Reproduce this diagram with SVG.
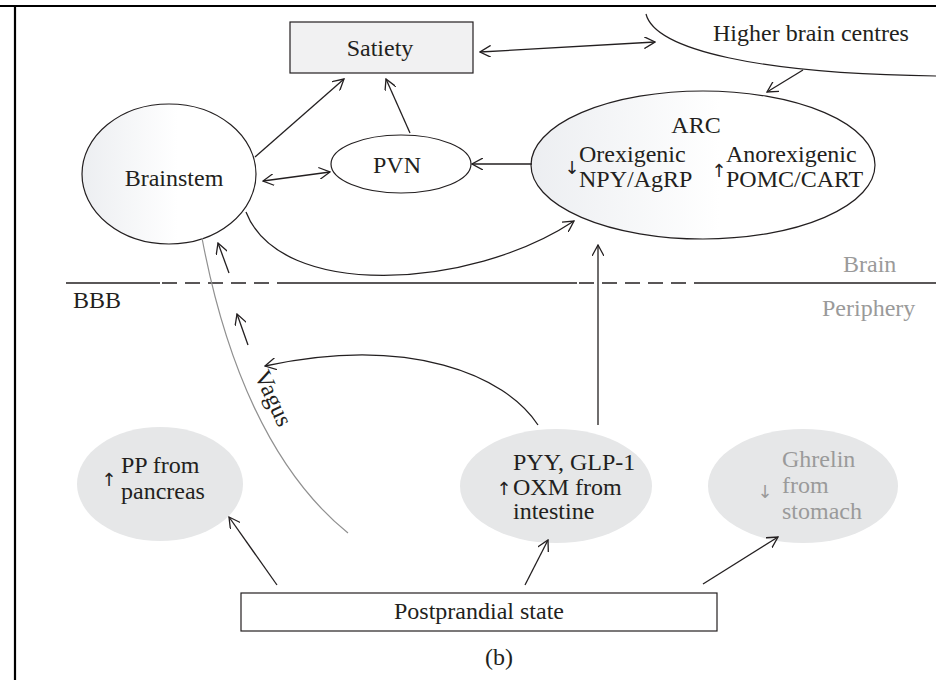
<svg xmlns="http://www.w3.org/2000/svg" width="936" height="680" viewBox="0 0 936 680">
  <style>
    .t { font-family: "Liberation Serif", "Times New Roman", serif; font-size: 24px; fill: #231f20; }
    .sym { font-family: "DejaVu Sans", sans-serif; font-size: 18px; fill: #231f20; text-anchor: middle; }
    .g { fill: #9a9a9a; }
    .c { text-anchor: middle; }
    .edge { fill: none; stroke: #231f20; stroke-width: 1.3; }
    .node { stroke: #231f20; stroke-width: 1.2; }
  </style>
  <defs>
    <linearGradient id="soft" x1="0" y1="0" x2="1" y2="0">
      <stop offset="0" stop-color="#eceef1"/>
      <stop offset="0.55" stop-color="#ffffff"/>
    </linearGradient>
    <marker id="arr" viewBox="0 0 12 12" refX="11" refY="6" markerWidth="12" markerHeight="12" markerUnits="userSpaceOnUse" orient="auto-start-reverse">
      <path d="M0,0 L11,6 L0,12" fill="none" stroke="#231f20" stroke-width="1.3"/>
    </marker>
  </defs>

  <rect width="936" height="680" fill="#ffffff"/>

  <!-- frame -->
  <g id="frame" stroke="#000" stroke-width="2.2">
    <line x1="0" y1="6" x2="936" y2="6"/>
    <line x1="15" y1="6" x2="15" y2="680"/>
  </g>

  <!-- brain / periphery boundary (BBB) -->
  <g id="bbb" stroke="#231f20" stroke-width="1.3">
    <line x1="66" y1="283" x2="160" y2="283"/>
    <line x1="162" y1="283" x2="290" y2="283" stroke-dasharray="15 8"/>
    <line x1="290" y1="283" x2="577" y2="283"/>
    <line x1="579" y1="283" x2="703" y2="283" stroke-dasharray="15 8"/>
    <line x1="703" y1="283" x2="936" y2="283"/>
    <text class="t" x="73" y="308" stroke="none">BBB</text>
    <text class="t g" x="843" y="272" stroke="none">Brain</text>
    <text class="t g" x="822" y="316" stroke="none">Periphery</text>
  </g>

  <!-- nodes -->
  <g id="satiety">
    <rect x="290" y="22" width="183" height="51" fill="#f1f1f2" class="node"/>
    <text class="t c" x="380" y="56">Satiety</text>
  </g>

  <g id="higher-brain-centres">
    <path d="M646,14 C655,50 760,74 936,76" fill="none" class="node"/>
    <text class="t" x="713" y="41">Higher brain centres</text>
  </g>

  <g id="brainstem">
    <ellipse cx="169" cy="174" rx="87" ry="70" fill="url(#soft)" class="node"/>
    <text class="t c" x="174" y="186">Brainstem</text>
  </g>

  <g id="pvn">
    <ellipse cx="401" cy="164" rx="70" ry="29" fill="#ffffff" class="node"/>
    <text class="t c" x="397" y="173">PVN</text>
  </g>

  <g id="arc">
    <ellipse cx="703" cy="165" rx="172" ry="74" fill="url(#soft)" class="node"/>
    <text class="t c" x="696" y="133">ARC</text>
    <text class="sym" x="572" y="174">↓</text>
    <text class="t" x="579" y="162">Orexigenic</text>
    <text class="t" x="579" y="187">NPY/AgRP</text>
    <text class="sym" x="719" y="177">↑</text>
    <text class="t" x="726" y="162">Anorexigenic</text>
    <text class="t" x="726" y="187">POMC/CART</text>
  </g>

  <g id="pp">
    <ellipse cx="160" cy="484" rx="83" ry="57" fill="#e6e7e8"/>
    <text class="sym" x="109" y="486">↑</text>
    <text class="t" x="121" y="473">PP from</text>
    <text class="t" x="121" y="499">pancreas</text>
  </g>

  <g id="pyy">
    <ellipse cx="556" cy="486" rx="96" ry="57" fill="#e6e7e8"/>
    <text class="t" x="513" y="470">PYY, GLP-1</text>
    <text class="sym" x="504" y="495">↑</text>
    <text class="t" x="513" y="495">OXM from</text>
    <text class="t" x="513" y="519">intestine</text>
  </g>

  <g id="ghrelin">
    <ellipse cx="803" cy="486" rx="95" ry="57" fill="#e6e7e8"/>
    <text class="t g" x="782" y="467">Ghrelin</text>
    <text class="sym g" x="765" y="498">↓</text>
    <text class="t g" x="782" y="493">from</text>
    <text class="t g" x="782" y="519">stomach</text>
  </g>

  <g id="postprandial">
    <rect x="241" y="593" width="476" height="38" fill="#ffffff" class="node"/>
    <text class="t c" x="479" y="619">Postprandial state</text>
  </g>

  <!-- vagus nerve -->
  <g id="vagus">
    <path d="M202,238 C225,360 270,470 348,533" fill="none" stroke="#909090" stroke-width="1.2"/>
    <text class="t" x="254" y="375" transform="rotate(65 254 375)">Vagus</text>
  </g>

  <!-- connectors -->
  <g id="connectors" class="edge">
    <line x1="480" y1="52" x2="655" y2="42" marker-start="url(#arr)" marker-end="url(#arr)"/>
    <line x1="803" y1="70" x2="767" y2="92" marker-end="url(#arr)"/>
    <line x1="255" y1="157" x2="344" y2="79" marker-end="url(#arr)"/>
    <line x1="410" y1="133" x2="386" y2="79" marker-end="url(#arr)"/>
    <line x1="263" y1="181" x2="330" y2="172" marker-start="url(#arr)" marker-end="url(#arr)"/>
    <line x1="532" y1="164" x2="472" y2="164" marker-end="url(#arr)"/>
    <path d="M246,212 C280,300 470,290 574,221" marker-end="url(#arr)"/>
    <line x1="229" y1="273" x2="218" y2="243" marker-end="url(#arr)"/>
    <line x1="248" y1="345" x2="237" y2="314" marker-end="url(#arr)"/>
    <path d="M538,425 C505,375 410,335 265,366" marker-end="url(#arr)"/>
    <line x1="598" y1="425" x2="598" y2="245" marker-end="url(#arr)"/>
    <line x1="277" y1="585" x2="229" y2="517" marker-end="url(#arr)"/>
    <line x1="525" y1="585" x2="548" y2="540" marker-end="url(#arr)"/>
    <line x1="703" y1="584" x2="778" y2="537" marker-end="url(#arr)"/>
  </g>

  <text class="t c" x="499" y="665">(b)</text>
</svg>
